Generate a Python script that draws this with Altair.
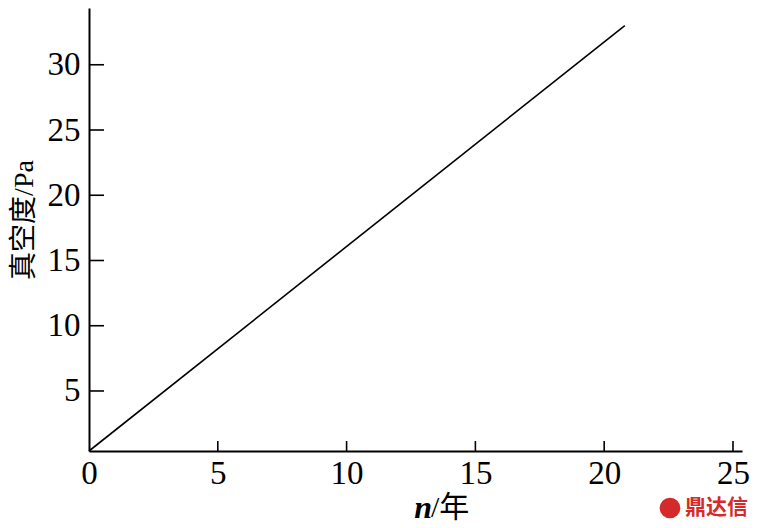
import altair as alt
import pandas as pd

# Data
years = [0.0, 20.8]
vacuum = [0.4, 33.0]
x_ticks = [0, 5, 10, 15, 20, 25]
y_ticks = [5, 10, 15, 20, 25, 30]
x_domain = [0, 25.35]
y_domain = [0.4, 34.35]
y_title = "真空度/Pa"
x_title_var = "n"
x_title_unit = "/年"
watermark = "鼎达信"

W, H = 653, 443
SERIF = "Liberation Serif, Times New Roman, Noto Sans CJK SC"

line_df = pd.DataFrame({"n": years, "v": vacuum})
xt_df = pd.DataFrame({"t": [t for t in x_ticks if t > 0]})
yt_df = pd.DataFrame({"t": y_ticks})
one = pd.DataFrame({"a": [0]})

xs = alt.Scale(domain=x_domain, nice=False, zero=False)
ys = alt.Scale(domain=y_domain, nice=False, zero=False)

line = alt.Chart(line_df).mark_line(color="black", strokeWidth=1.6).encode(
    x=alt.X("n:Q", scale=xs, axis=alt.Axis(
        values=x_ticks, title=None, ticks=False, grid=False,
        domainColor="black", domainWidth=2, labelFont="Liberation Serif",
        labelFontSize=33, labelColor="black", labelPadding=6, labelFlush=False)),
    y=alt.Y("v:Q", scale=ys, axis=alt.Axis(
        values=y_ticks, title=None, ticks=False, grid=False,
        domainColor="black", domainWidth=2, labelFont="Liberation Serif",
        labelFontSize=33, labelColor="black", labelPadding=9)),
)

xticks = alt.Chart(xt_df).mark_rule(color="black", strokeWidth=1.6).encode(
    x=alt.X("t:Q", scale=xs), y=alt.value(H - 10), y2=alt.value(H)
)
yticks = alt.Chart(yt_df).mark_rule(color="black", strokeWidth=1.6).encode(
    y=alt.Y("t:Q", scale=ys), x=alt.value(0), x2=alt.value(15)
)

ytitle = alt.Chart(one).mark_text(
    font=SERIF, fontSize=28, angle=270, color="black", baseline="middle", align="center"
).encode(x=alt.value(-64), y=alt.value(212), text=alt.value(y_title))

xt_n = alt.Chart(one).mark_text(
    font="Liberation Serif", fontSize=32, fontStyle="italic", fontWeight="bold",
    color="black", baseline="middle", align="right"
).encode(x=alt.value(343), y=alt.value(500), text=alt.value(x_title_var))
xt_u = alt.Chart(one).mark_text(
    font=SERIF, fontSize=30, color="black", baseline="middle", align="left"
).encode(x=alt.value(342), y=alt.value(500), text=alt.value(x_title_unit))

logo = alt.Chart(one).mark_circle(color="#d42a2a", opacity=1, size=430).encode(
    x=alt.value(581), y=alt.value(500)
)
wm = alt.Chart(one).mark_text(
    font="Noto Sans CJK SC", fontSize=21, fontWeight="bold", color="#d42a2a",
    baseline="middle", align="left"
).encode(x=alt.value(596), y=alt.value(500), text=alt.value(watermark))

chart = alt.layer(line, xticks, yticks, ytitle, xt_n, xt_u, logo, wm).properties(
    width=W, height=H,
    background="white",
    autosize=alt.AutoSizeParams(type="none"),
    padding={"left": 81, "top": 0, "right": 9, "bottom": 77},
).configure_view(strokeWidth=0, stroke="transparent")

chart.save("out.html", embed_options={"renderer": "svg", "actions": False})
